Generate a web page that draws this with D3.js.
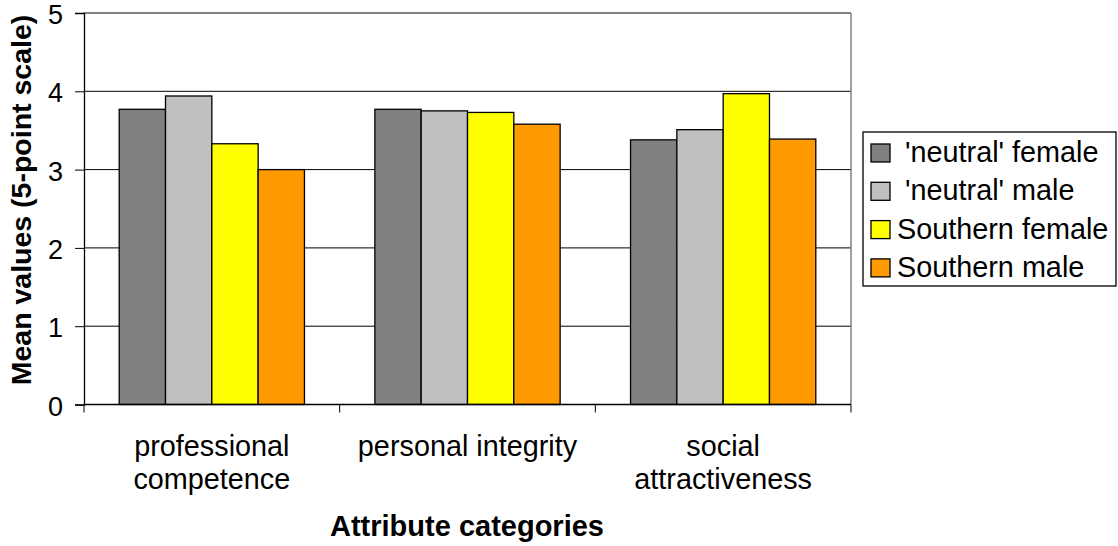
<!DOCTYPE html>
<html>
<head>
<meta charset="utf-8">
<script src="https://cdn.jsdelivr.net/npm/d3@7"></script>
<style>
  body { margin: 0; background: #fff; }
  text { font-family: "Liberation Sans", Arial, sans-serif; fill: #000; }
</style>
</head>
<body>
<svg id="chart" width="1118" height="546"></svg>
<script>
var categories = [["professional", "competence"], ["personal integrity"], ["social", "attractiveness"]];
var series = [" 'neutral' female", " 'neutral' male", "Southern female", "Southern male"];
var colors = ["#808080", "#c0c0c0", "#ffff00", "#ff9900"];
var values = [
  [3.77, 3.94, 3.33, 3.00],
  [3.77, 3.75, 3.73, 3.58],
  [3.38, 3.51, 3.97, 3.39]
];
var yTicks = [0, 1, 2, 3, 4, 5];

var svg = d3.select("#chart");
var pLeft = 84, pRight = 851, pTop = 13, pBottom = 404.5;

var x = d3.scaleBand().domain(d3.range(categories.length)).range([pLeft, pRight]);
var y = d3.scaleLinear().domain([0, 5]).range([pBottom, pTop]);
var xs = d3.scaleBand().domain(d3.range(series.length))
      .range([0, x.bandwidth()]).paddingOuter(0.76);

// gridlines
svg.append("g").selectAll("line")
  .data(yTicks.slice(1))
  .enter().append("line")
  .attr("x1", pLeft).attr("x2", pRight)
  .attr("y1", function(d) { return y(d); })
  .attr("y2", function(d) { return y(d); })
  .attr("stroke", "#000").attr("stroke-width", 1);

// plot border right
svg.append("line")
  .attr("x1", pRight).attr("x2", pRight).attr("y1", pTop).attr("y2", pBottom)
  .attr("stroke", "#808080").attr("stroke-width", 1.5);

// bars
var grp = svg.append("g").selectAll("g")
  .data(values)
  .enter().append("g")
  .attr("transform", function(d, i) { return "translate(" + x(i) + ",0)"; });

grp.selectAll("rect")
  .data(function(d) { return d; })
  .enter().append("rect")
  .attr("x", function(d, i) { return xs(i); })
  .attr("width", xs.bandwidth())
  .attr("y", function(d) { return y(d); })
  .attr("height", function(d) { return pBottom - y(d); })
  .attr("fill", function(d, i) { return colors[i]; })
  .attr("stroke", "#000").attr("stroke-width", 1.3);

// y axis
svg.append("g")
  .attr("transform", "translate(" + pLeft + ",0)")
  .call(d3.axisLeft(y).tickValues(yTicks).tickSize(9).tickPadding(12).tickFormat(d3.format("d")))
  .call(function(g) {
    g.select(".domain").attr("stroke", "#000").attr("stroke-width", 1.3);
    g.selectAll(".tick line").attr("stroke", "#000");
    g.selectAll(".tick text").style("font-size", "27px").attr("dy", "0.39em")
      .style("font-family", "Liberation Sans, Arial, sans-serif").attr("fill", "#000");
  });

// x axis
var xAxis = svg.append("g")
  .attr("transform", "translate(0," + pBottom + ")");
xAxis.append("line").attr("x1", pLeft).attr("x2", pRight)
  .attr("stroke", "#000").attr("stroke-width", 1.3);
xAxis.selectAll(".tk")
  .data(d3.range(categories.length + 1))
  .enter().append("line")
  .attr("x1", function(d) { return pLeft + d * x.step(); })
  .attr("x2", function(d) { return pLeft + d * x.step(); })
  .attr("y1", 0).attr("y2", 8)
  .attr("stroke", "#000");

var lbl = xAxis.selectAll(".cat")
  .data(categories)
  .enter().append("text")
  .attr("text-anchor", "middle")
  .style("font-size", "28.8px")
  .attr("transform", function(d, i) { return "translate(" + (x(i) + x.bandwidth() / 2) + ",51)"; });
lbl.selectAll("tspan")
  .data(function(d) { return d; })
  .enter().append("tspan")
  .attr("x", 0)
  .attr("y", function(d, i) { return i * 33; })
  .text(function(d) { return d; });

// axis titles
svg.append("text")
  .attr("x", 467).attr("y", 536)
  .attr("text-anchor", "middle")
  .style("font-size", "29px").style("font-weight", "bold")
  .text("Attribute categories");

svg.append("text")
  .attr("transform", "translate(31,200) rotate(-90)")
  .attr("text-anchor", "middle")
  .style("font-size", "28.5px").style("font-weight", "bold")
  .text("Mean values (5-point scale)");

// legend
var legend = svg.append("g").attr("transform", "translate(863,132)");
legend.append("rect")
  .attr("width", 253).attr("height", 154)
  .attr("fill", "#fff").attr("stroke", "#000").attr("stroke-width", 1.3);
var item = legend.selectAll(".item")
  .data(series)
  .enter().append("g")
  .attr("transform", function(d, i) { return "translate(0," + (30 + i * 38.3) + ")"; });
item.append("rect")
  .attr("x", 8).attr("y", -18)
  .attr("width", 19).attr("height", 18)
  .attr("fill", function(d, i) { return colors[i]; })
  .attr("stroke", "#000").attr("stroke-width", 1.3);
item.append("text")
  .attr("x", 34).attr("y", 0)
  .style("font-size", "28.8px")
  .style("white-space", "pre")
  .attr("xml:space", "preserve")
  .text(function(d) { return d; });
</script>
</body>
</html>
